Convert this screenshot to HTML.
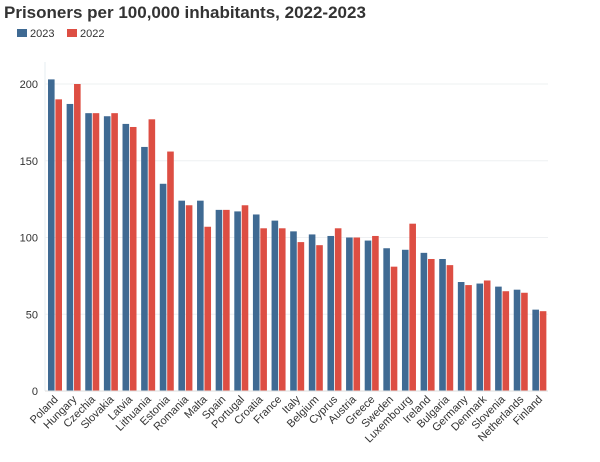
<!DOCTYPE html>
<html><head><meta charset="utf-8"><style>
body{margin:0;background:#fff;font-family:"Liberation Sans",sans-serif;}
svg text{font-family:"Liberation Sans",sans-serif;}
</style></head><body>
<svg width="600" height="457">
<text x="4" y="18" font-size="17" font-weight="bold" fill="#333">Prisoners per 100,000 inhabitants, 2022-2023</text>
<g>
<rect x="17" y="29" width="10" height="8" fill="#3f6a93"/>
<text x="30" y="37" font-size="11" fill="#333">2023</text>
<rect x="67" y="29" width="10" height="8" fill="#dd4e43"/>
<text x="80" y="37" font-size="11" fill="#333">2022</text>
</g>
<g id="plot"></g>
</svg>
<script>
const categories=["Poland","Hungary","Czechia","Slovakia","Latvia","Lithuania","Estonia","Romania","Malta","Spain","Portugal","Croatia","France","Italy","Belgium","Cyprus","Austria","Greece","Sweden","Luxembourg","Ireland","Bulgaria","Germany","Denmark","Slovenia","Netherlands","Finland"];
const values2023=[203,187,181,179,174,159,135,124,124,118,117,115,111,104,102,101,100,98,93,92,90,86,71,70,68,66,53];
const values2022=[190,200,181,181,172,177,156,121,107,118,121,106,106,97,95,106,100,101,81,109,86,82,69,72,65,64,52];
const yTicks=[0,50,100,150,200];
const NS="http://www.w3.org/2000/svg";
const g=document.getElementById('plot');
const x0=45,x1=548,yBase=391,yTop=84;
function y(v){return yBase-(v/200)*(yBase-yTop);}
const step=(x1-x0)/categories.length;
function gx(i){return x0+3+i*step;}
function mk(t,a){const e=document.createElementNS(NS,t);for(const k in a)e.setAttribute(k,a[k]);g.appendChild(e);return e;}
const ax=mk('line',{x1:x0,x2:x0,y1:62,y2:yBase,stroke:'#e6ecf2'});


yTicks.forEach(t=>{
  const l=mk('line',{x1:x0,x2:x1,y1:y(t),y2:y(t),stroke:'#eef0f2'});
  
  
  const tx=mk('text',{x:38,y:y(t)+4,'text-anchor':'end','font-size':11,fill:'#333'});
  tx.textContent=t;
  
  
});
const bw=6.6;
categories.forEach((c,i)=>{
  const b=mk('rect',{x:gx(i),y:y(values2023[i]),width:bw,height:yBase-y(values2023[i]),fill:'#3f6a93'});
  
  
  const r=mk('rect',{x:gx(i)+bw+0.8,y:y(values2022[i]),width:bw,height:yBase-y(values2022[i]),fill:'#dd4e43'});
  
  
  const cx=gx(i)+bw+4;
  const t=mk('text',{x:cx,y:400,'text-anchor':'end','font-size':11,fill:'#333',transform:`rotate(-45 ${cx} 400)`});
  t.textContent=c;
  
  
});
const base=mk('line',{x1:x0,x2:x1,y1:yBase,y2:yBase,stroke:'#ddd'});


</script>
</body></html>
